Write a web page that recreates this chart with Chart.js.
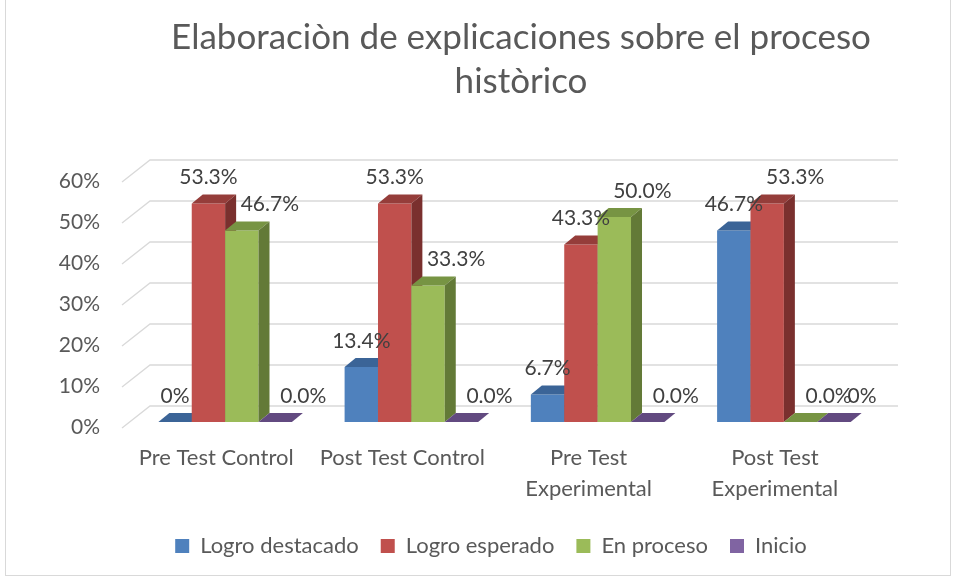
<!DOCTYPE html>
<html>
<head>
<meta charset="utf-8">
<script src="https://cdn.jsdelivr.net/npm/chart.js@4.4.1/dist/chart.umd.min.js"></script>
<style>
  html, body { margin: 0; padding: 0; background: #fff; }
  #wrap { position: relative; width: 954px; height: 579px; overflow: hidden; }
  #frame { position: absolute; left: 5px; top: -1px; width: 944px; height: 575px; border: 1px solid #d9d9d9; }
  canvas { position: absolute; left: 0; top: 0; }
</style>
</head>
<body>
<div id="wrap">
  <div id="frame"></div>
  <canvas id="chart" width="954" height="579"></canvas>
</div>
<script>
// values (percent)
const titleLines = ['Elaboraciòn de explicaciones sobre el proceso', 'històrico'];
const categories = [['Pre Test Control'], ['Post Test Control'], ['Pre Test', 'Experimental'], ['Post Test', 'Experimental']];
const seriesNames = ['Logro destacado', 'Logro esperado', 'En proceso', 'Inicio'];

const logroDestacado = [0, 13.4, 6.7, 46.7];
const logroEsperado = [53.3, 53.3, 43.3, 53.3];
const enProceso = [46.7, 33.3, 50.0, 0];
const inicio = [0, 0, 0, 0];

// data labels as printed in the picture
const lblDestacado = ['0%', '13.4%', '6.7%', '46.7%'];
const lblEsperado = ['53.3%', '53.3%', '43.3%', '53.3%'];
const lblProceso = ['46.7%', '33.3%', '50.0%', '0.0%'];
const lblInicio = ['0.0%', '0.0%', '0.0%', '0%'];

const seriesValues = [logroDestacado, logroEsperado, enProceso, inicio];
const seriesLabels = [lblDestacado, lblEsperado, lblProceso, lblInicio];

// excel 2010 style palette: front / top / side
const frontColors = ['#4F81BD', '#C0504D', '#9BBB59', '#8064A2'];
const topColors = ['#3B6497', '#953D3A', '#779443', '#624A80'];
const sideColors = ['#30527C', '#7A302E', '#637A37', '#503C69'];

const FONT = 'Lato';
const TEXT = '#595959';
const DX = 11, DY = 9; // bar depth

function poly(ctx, pts) {
  ctx.beginPath();
  ctx.moveTo(pts[0][0], pts[0][1]);
  for (let k = 1; k < pts.length; k++) ctx.lineTo(pts[k][0], pts[k][1]);
  ctx.closePath();
  ctx.fill();
}

const bars3d = {
  id: 'bars3d',
  beforeDatasetsDraw(chart) {
    // back wall grid + side wall diagonals
    const {ctx, chartArea: a, scales: {y}} = chart;
    ctx.save();
    ctx.strokeStyle = '#d9d9d9';
    ctx.lineWidth = 1.3;
    y.ticks.forEach(t => {
      const py = y.getPixelForValue(t.value);
      ctx.beginPath();
      ctx.moveTo(a.left - 10, py + 6);
      ctx.lineTo(a.left + 18, py - 16);
      ctx.lineTo(a.right + 21, py - 16);
      ctx.stroke();
    });
    ctx.restore();
  },
  beforeDatasetDraw() {
    return false; // drawn below, left to right, so the faces stack correctly
  },
  afterDatasetsDraw(chart) {
    const ctx = chart.ctx;
    ctx.save();
    chart.data.datasets.forEach((ds, i) => {
      chart.getDatasetMeta(i).data.forEach(bar => {
        bar.draw(ctx, chart.chartArea);
        const {x, y, base, width} = bar.getProps(['x', 'y', 'base', 'width'], true);
        const l = x - width / 2, r = x + width / 2;
        ctx.fillStyle = topColors[i];
        poly(ctx, [[l, y], [l + DX, y - DY], [r + DX, y - DY], [r, y]]);
        if (base - y > 0.5) {
          ctx.fillStyle = sideColors[i];
          poly(ctx, [[r, y], [r + DX, y - DY], [r + DX, base - DY], [r, base]]);
        }
      });
    });

    // data labels, nudged right when they would sit on a neighbour
    ctx.font = '21px ' + FONT;
    ctx.textAlign = 'center';
    ctx.textBaseline = 'middle';
    ctx.fillStyle = '#404040';
    categories.forEach((c, j) => {
      let prev = null;
      seriesLabels.forEach((labels, i) => {
        const bar = chart.getDatasetMeta(i).data[j];
        const text = labels[j];
        const w = ctx.measureText(text).width;
        let lx = bar.x, ly = bar.y - 26;
        if (i > 0) {
          const nb = chart.getDatasetMeta(i - 1).data[j];
          const hitBar = nb.y < ly + 10;
          const hitLabel = prev && Math.abs(prev.y - ly) < 28 && Math.abs(prev.x - lx) < (prev.w + w) / 2 + 6;
          if (hitBar || hitLabel) lx += 28;
        }
        ctx.fillText(text, lx, ly);
        prev = {x: lx, y: ly, w};
      });
    });
    ctx.restore();
  },
  afterDraw(chart) {
    const ctx = chart.ctx;
    ctx.save();
    ctx.font = '35px ' + FONT;
    ctx.fillStyle = TEXT;
    ctx.textAlign = 'center';
    ctx.textBaseline = 'middle';
    ctx.fillText(titleLines[0], 521, 38);
    ctx.fillText(titleLines[1], 521, 82);
    ctx.restore();
  }
};

function draw() {
  new Chart(document.getElementById('chart'), {
    type: 'bar',
    data: {
      labels: categories,
      datasets: seriesNames.map((name, i) => ({
        label: name,
        data: seriesValues[i],
        backgroundColor: frontColors[i],
        borderWidth: 0,
        categoryPercentage: 0.717,
        barPercentage: 1
      }))
    },
    options: {
      responsive: false,
      animation: false,
      layout: { padding: { top: 176, left: 28, right: 0, bottom: 12 } },
      plugins: {
        legend: {
          position: 'bottom',
          labels: {
            font: { family: FONT, size: 22 },
            color: TEXT,
            boxWidth: 14,
            boxHeight: 14,
            padding: 22
          }
        },
        tooltip: { enabled: false }
      },
      scales: {
        x: {
          grid: { display: false, drawTicks: false },
          border: { display: false },
          ticks: {
            font: { family: FONT, size: 22, lineHeight: 1.41 },
            color: TEXT,
            padding: 20,
            labelOffset: -9,
            maxRotation: 0,
            autoSkip: false
          },
          afterFit: s => { s.height = 91; }
        },
        y: {
          min: 0,
          max: 60,
          grid: { display: false, drawTicks: false },
          border: { display: false },
          ticks: {
            stepSize: 10,
            callback: v => v + '%',
            font: { family: FONT, size: 21 },
            color: TEXT,
            padding: 32,
            labelOffset: 5
          },
          afterFit: s => { s.width = 104; }
        },
        // empty right axis, only keeps room for the back wall
        yRight: {
          position: 'right',
          grid: { display: false, drawTicks: false },
          border: { display: false },
          ticks: { display: false },
          afterFit: s => { s.width = 77; }
        }
      }
    },
    plugins: [bars3d]
  });
}

document.fonts.load('21px ' + FONT).then(draw, draw);
</script>
</body>
</html>
